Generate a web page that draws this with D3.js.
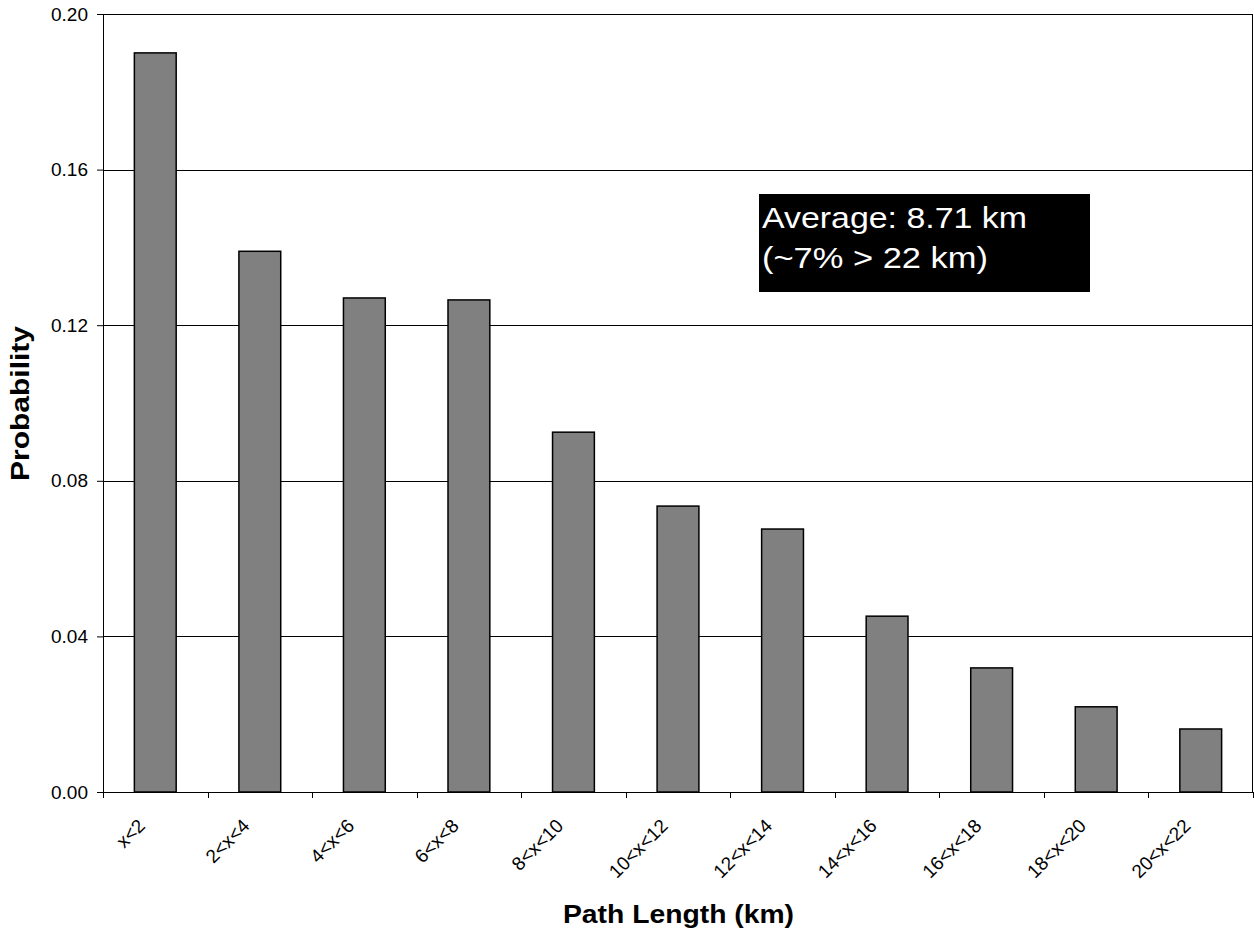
<!DOCTYPE html>
<html>
<head>
<meta charset="utf-8">
<script src="https://cdn.jsdelivr.net/npm/d3@7"></script>
<style>
  body { margin: 0; background: #fff; }
  svg { display: block; font-family: "Liberation Sans", Arial, sans-serif; }
</style>
</head>
<body>
<div class="container"></div>
<script>
const categories = ["x<2", "2<x<4", "4<x<6", "6<x<8", "8<x<10", "10<x<12",
  "12<x<14", "14<x<16", "16<x<18", "18<x<20", "20<x<22"];
const probability = [0.190, 0.139, 0.127, 0.1265, 0.0925, 0.0735,
  0.0676, 0.0452, 0.0319, 0.0219, 0.0162];
const yTicks = [0, 0.04, 0.08, 0.12, 0.16, 0.20];
const noteLines = ["Average: 8.71 km", "(~7% > 22 km)"];

const width = 1254;
const height = 936;
const margin = { top: 14, right: 1, bottom: 144, left: 103 };
const plotW = width - margin.left - margin.right;
const plotH = height - margin.top - margin.bottom;

const svg = d3.select(".container")
  .append("svg")
  .attr("width", width)
  .attr("height", height);

const g = svg.append("g")
  .attr("transform", `translate(${margin.left},${margin.top})`);

const xScale = d3.scaleBand()
  .domain(categories)
  .range([0, plotW])
  .paddingInner(0.6)
  .paddingOuter(0.3);

const yScale = d3.scaleLinear()
  .domain([0, 0.20])
  .range([plotH, 0]);

// gridlines
g.append("g")
  .selectAll("line")
  .data(yTicks.slice(1))
  .enter()
  .append("line")
  .attr("x1", 0)
  .attr("x2", plotW)
  .attr("y1", d => Math.round(yScale(d)) + 0.5)
  .attr("y2", d => Math.round(yScale(d)) + 0.5)
  .attr("stroke", "#000")
  .attr("stroke-width", 1);

// right border
g.append("line")
  .attr("x1", plotW - 0.5)
  .attr("x2", plotW - 0.5)
  .attr("y1", 0)
  .attr("y2", plotH)
  .attr("stroke", "#000");

// bars
g.append("g")
  .selectAll("rect")
  .data(probability)
  .enter()
  .append("rect")
  .attr("x", (d, i) => xScale(categories[i]))
  .attr("y", d => yScale(d))
  .attr("width", xScale.bandwidth())
  .attr("height", d => plotH - yScale(d))
  .attr("fill", "#808080")
  .attr("stroke", "#000")
  .attr("stroke-width", 1.5);

// y axis
const yAxis = g.append("g")
  .call(d3.axisLeft(yScale)
    .tickValues(yTicks)
    .tickSize(6)
    .tickPadding(9)
    .tickFormat(d3.format(".2f")));
yAxis.selectAll("text")
  .attr("font-size", 19)
  .attr("fill", "#000")
  .attr("font-family", "Liberation Sans, Arial, sans-serif");
yAxis.select(".domain").attr("stroke", "#000");

// x axis: ticks at category boundaries
const step = xScale.step();
const boundaries = d3.range(categories.length + 1).map(i => i * step);
g.append("line")
  .attr("x1", 0)
  .attr("x2", plotW)
  .attr("y1", plotH + 0.5)
  .attr("y2", plotH + 0.5)
  .attr("stroke", "#000");
g.append("g")
  .selectAll("line")
  .data(boundaries)
  .enter()
  .append("line")
  .attr("x1", d => Math.round(d) + 0.5)
  .attr("x2", d => Math.round(d) + 0.5)
  .attr("y1", plotH)
  .attr("y2", plotH + 6)
  .attr("stroke", "#000");

g.append("g")
  .selectAll("text")
  .data(categories)
  .enter()
  .append("text")
  .attr("transform", d => {
    const cx = xScale(d) + xScale.bandwidth() / 2;
    return `translate(${cx - 9},${plotH + 35}) rotate(-45)`;
  })
  .attr("text-anchor", "end")
  .attr("font-size", 19)
  .text(d => d);

// axis titles
svg.append("text")
  .attr("x", margin.left + plotW / 2 - 115)
  .attr("y", 923)
  .attr("font-size", 25)
  .attr("font-weight", "bold")
  .attr("textLength", 231)
  .attr("lengthAdjust", "spacingAndGlyphs")
  .text("Path Length (km)");

svg.append("text")
  .attr("transform", `translate(29,${margin.top + plotH / 2 + 78}) rotate(-90)`)
  .attr("font-size", 25)
  .attr("font-weight", "bold")
  .attr("textLength", 155)
  .attr("lengthAdjust", "spacingAndGlyphs")
  .text("Probability");

// annotation box
const noteLengths = [265, 226];
const note = svg.append("g").attr("transform", "translate(759,194)");
note.append("rect")
  .attr("width", 331)
  .attr("height", 98)
  .attr("fill", "#000");
note.selectAll("text")
  .data(noteLines)
  .enter()
  .append("text")
  .attr("x", 3)
  .attr("y", (d, i) => 34 + i * 40)
  .attr("fill", "#fff")
  .attr("font-size", 30)
  .attr("textLength", (d, i) => noteLengths[i])
  .attr("lengthAdjust", "spacingAndGlyphs")
  .text(d => d);
</script>
</body>
</html>
